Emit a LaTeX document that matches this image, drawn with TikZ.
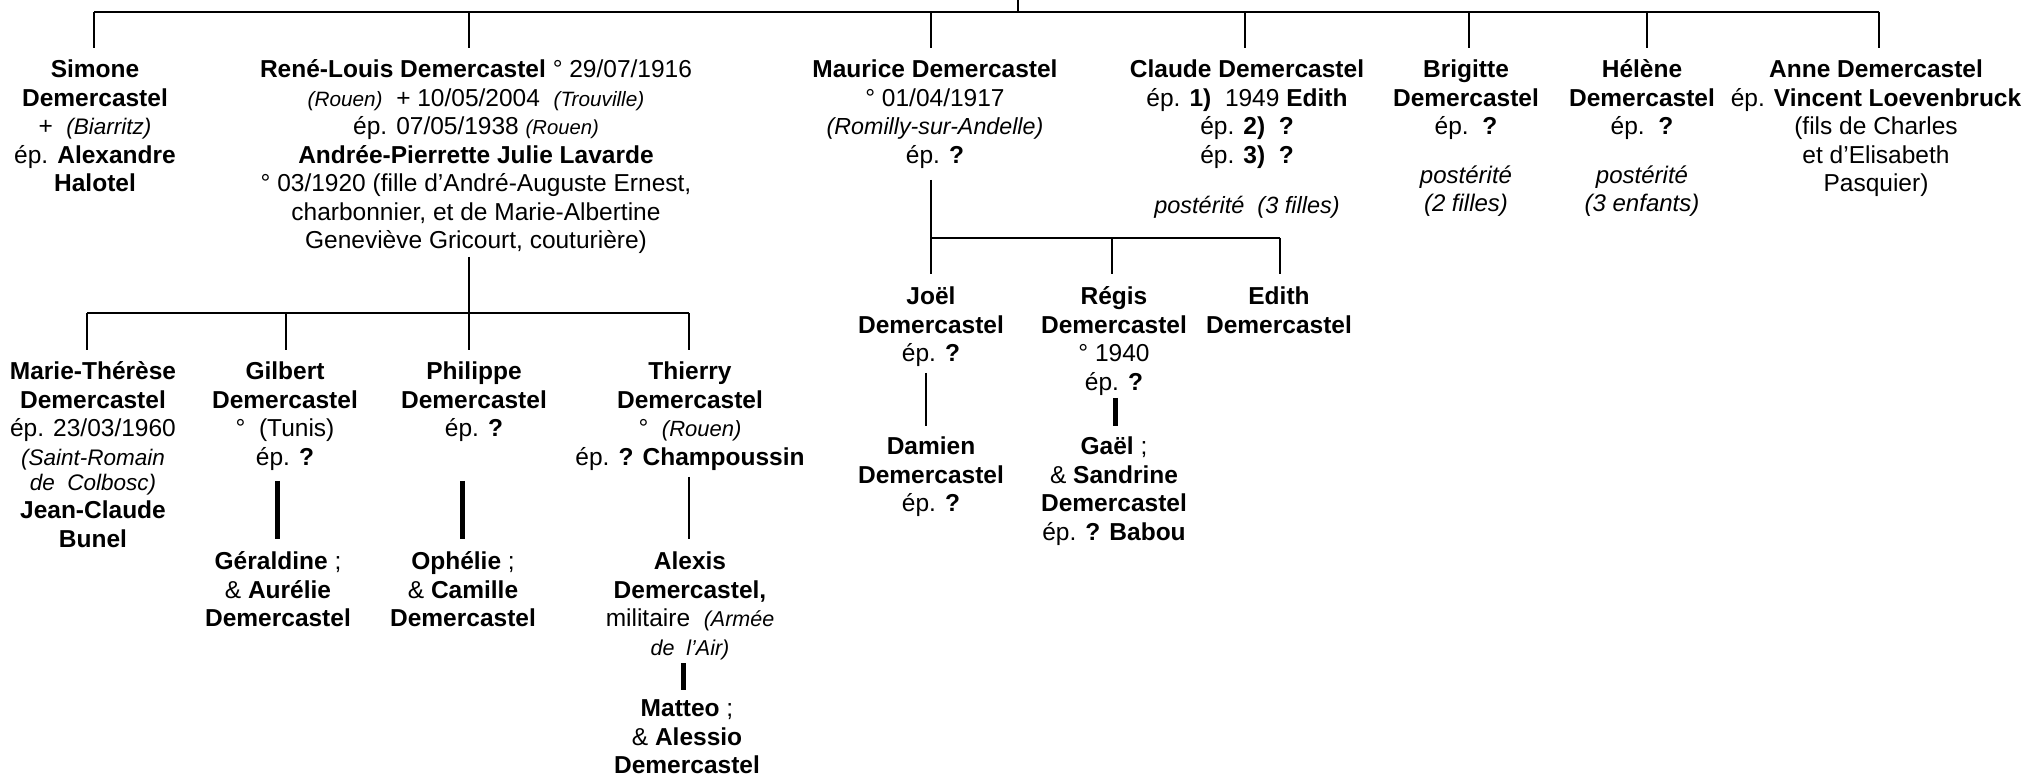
\documentclass[tikz,border=0pt]{standalone}
\usepackage{fontspec}
\setmainfont{Liberation Sans}
\newcommand{\pit}[2][8.6]{{\fontsize{#1}{11.4}\selectfont\itshape #2}}
\begin{document}
\begin{tikzpicture}[x=0.4pt,y=-0.4pt,
  font=\fontsize{9.8}{11.4}\selectfont,
  person/.style={align=center,anchor=north,inner sep=0pt,outer sep=0pt},
  postnote/.style={align=center,anchor=north,inner sep=0pt,outer sep=0pt,font=\fontsize{9.6}{11.2}\selectfont\itshape},
  thinl/.style={line width=0.8pt},
  thickl/.style={line width=2pt}]
\useasboundingbox (0,0) rectangle (2026,778);

% ---------- generation 1 ----------
\node[person] (simone) at (95,58) {\strut\textbf{Simone}\\\textbf{Demercastel}\\+~~\pit[9]{(Biarritz)}\\ép. \textbf{Alexandre}\\\textbf{Halotel}};
\node[person] (rene) at (476,58) {\strut\textbf{René-Louis Demercastel} ° 29/07/1916\\\pit[8.3]{(Rouen)}~~+ 10/05/2004~~\pit[8.3]{(Trouville)}\\ép. 07/05/1938~\pit[8.1]{(Rouen)}\\\textbf{Andrée-Pierrette Julie Lavarde}\\° 03/1920 (fille d’André-Auguste Ernest,\\charbonnier, et de Marie-Albertine\\Geneviève Gricourt, couturière)};
\node[person] (maurice) at (935,58) {\strut\textbf{Maurice Demercastel}\\° 01/04/1917\\\pit[9.3]{(Romilly-sur-Andelle)}\\ép. \textbf{?}};
\node[person] (claude) at (1247,58) {\strut\textbf{Claude Demercastel}\\ép. \textbf{1)}~~1949 \textbf{Edith}\\ép. \textbf{2)}~~\textbf{?}\\ép. \textbf{3)}~~\textbf{?}};
\node[postnote,font=\fontsize{9.4}{11.2}\selectfont\itshape] (claudepost) at (1247,194) {\strut postérité~~(3 filles)};
\node[person] (brigitte) at (1466,58) {\strut\textbf{Brigitte}\\\textbf{Demercastel}\\ép.~~\textbf{?}};
\node[postnote] (brigittepost) at (1466,164) {\strut postérité\\(2~filles)};
\node[person] (helene) at (1642,58) {\strut\textbf{Hélène}\\\textbf{Demercastel}\\ép.~~\textbf{?}};
\node[postnote] (helenepost) at (1642,164) {\strut postérité\\(3~enfants)};
\node[person] (anne) at (1876,58) {\strut\textbf{Anne Demercastel}\\ép. \textbf{Vincent Loevenbruck}\\(fils de Charles\\et d’Elisabeth\\Pasquier)};

% ---------- generation 2 ----------
\node[person] (marie) at (93,360) {\strut\textbf{Marie-Thérèse}\\\textbf{Demercastel}\\ép. 23/03/1960\\\pit[9]{(Saint-Romain}\\[-1.5pt]\pit[9]{de~~Colbosc)}\\\textbf{Jean-Claude}\\\textbf{Bunel}};
\node[person] (gilbert) at (285,360) {\strut\textbf{Gilbert}\\\textbf{Demercastel}\\°~~(Tunis)\\ép. \textbf{?}};
\node[person] (philippe) at (474,360) {\strut\textbf{Philippe}\\\textbf{Demercastel}\\ép. \textbf{?}};
\node[person] (thierry) at (690,360) {\strut\textbf{Thierry}\\\textbf{Demercastel}\\°~~\pit[8.8]{(Rouen)}\\ép. \textbf{? Champoussin}};

\node[person] (joel) at (931,285) {\strut\textbf{Joël}\\\textbf{Demercastel}\\ép. \textbf{?}};
\node[person] (regis) at (1114,285) {\strut\textbf{Régis}\\\textbf{Demercastel}\\° 1940\\ép. \textbf{?}};
\node[person] (edith) at (1279,285) {\strut\textbf{Edith}\\\textbf{Demercastel}};

% ---------- generation 3 ----------
\node[person] (geraldine) at (278,550) {\strut\textbf{Géraldine} ;\\\& \textbf{Aurélie}\\\textbf{Demercastel}};
\node[person] (ophelie) at (463,550) {\strut\textbf{Ophélie} ;\\\& \textbf{Camille}\\\textbf{Demercastel}};
\node[person] (alexis) at (690,550) {\strut\textbf{Alexis}\\\textbf{Demercastel,}\\militaire~~\pit{(Armée}\\\pit{de~~l’Air)}};
\node[person] (damien) at (931,435) {\strut\textbf{Damien}\\\textbf{Demercastel}\\ép. \textbf{?}};
\node[person] (gael) at (1114,435) {\strut\textbf{Gaël} ;\\\& \textbf{Sandrine}\\\textbf{Demercastel}\\ép. \textbf{? Babou}};

% ---------- generation 4 ----------
\node[person] (matteo) at (687,697) {\strut\textbf{Matteo} ;\\\& \textbf{Alessio}\\\textbf{Demercastel}};

% ---------- connectors ----------
\coordinate (root) at (1018,0);
\coordinate (rootbar) at (1018,11.7);
\coordinate (jsimone) at (94,11.7);
\coordinate (jrene) at (469,11.7);
\coordinate (jmaurice) at (931,11.7);
\coordinate (jclaude) at (1245,11.7);
\coordinate (jbrigitte) at (1469,11.7);
\coordinate (jhelene) at (1647,11.7);
\coordinate (janne) at (1879,11.7);
\draw[thinl] (root) -- (rootbar);
\draw[thinl] (jsimone) -- (janne);
\foreach \n in {simone,rene,maurice,claude,brigitte,helene,anne}
  \draw[thinl,shorten >=4pt] (j\n) -- (j\n |- \n.north);

% René-Louis family
\coordinate (rtop) at (469,257);
\coordinate (rbar) at (469,313);
\coordinate (jmarie) at (87,313);
\coordinate (jgilbert) at (286,313);
\coordinate (jthierry) at (689,313);
\draw[thinl] (rtop) -- (rbar);
\draw[thinl] (jmarie) -- (jthierry);
\foreach \n in {marie,gilbert,thierry}
  \draw[thinl,shorten >=4pt] (j\n) -- (j\n |- \n.north);
\draw[thinl,shorten >=4pt] (rbar) -- (rbar |- philippe.north);

% Maurice family
\coordinate (mtop) at (931,180);
\coordinate (mbar) at (931,238);
\coordinate (jregis) at (1112,238);
\coordinate (jedith) at (1280,238);
\draw[thinl] (mtop) -- (mbar);
\draw[thinl] (mbar) -- (jedith);
\draw[thinl,shorten >=4.4pt] (mbar) -- (mbar |- joel.north);
\draw[thinl,shorten >=4.4pt] (jregis) -- (jregis |- regis.north);
\draw[thinl,shorten >=4.4pt] (jedith) -- (jedith |- edith.north);

% descendants
\coordinate (cgilbert) at (277,481);
\coordinate (cphilippe) at (462,481);
\coordinate (cthierry) at (689,477);
\coordinate (calexis) at (683,663);
\coordinate (cjoel) at (926,373);
\coordinate (cregis) at (1115,398);
\draw[thickl,shorten >=4.4pt] (cgilbert) -- (cgilbert |- geraldine.north);
\draw[thickl,shorten >=4.4pt] (cphilippe) -- (cphilippe |- ophelie.north);
\draw[thinl,shorten >=4.4pt] (cthierry) -- (cthierry |- alexis.north);
\draw[thickl,shorten >=2.8pt] (calexis) -- (calexis |- matteo.north);
\draw[thinl,shorten >=3.6pt] (cjoel) -- (cjoel |- damien.north);
\draw[thickl,shorten >=3.6pt] (cregis) -- (cregis |- gael.north);
\end{tikzpicture}
\end{document}
